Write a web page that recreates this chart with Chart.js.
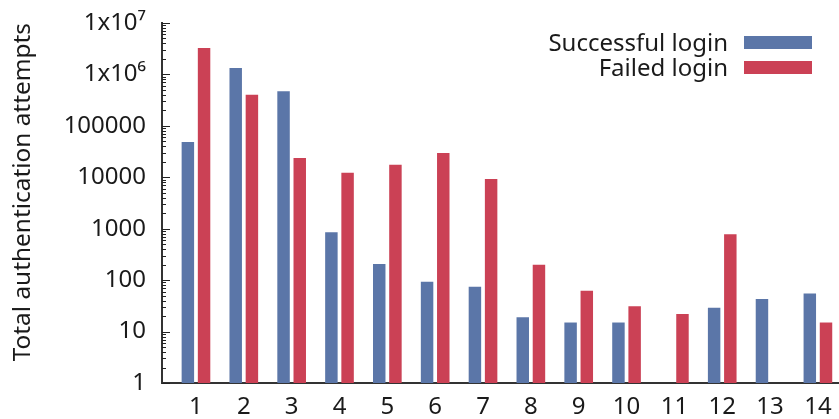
<!DOCTYPE html>
<html>
<head>
<meta charset="utf-8">
<script src="https://cdn.jsdelivr.net/npm/chart.js@4/dist/chart.umd.min.js"></script>
<style>
  html, body { margin: 0; padding: 0; background: #ffffff; }
  #wrap { width: 839px; height: 419px; position: relative; }
</style>
</head>
<body>
<div id="wrap"><canvas id="c" width="839" height="419"></canvas></div>
<script>
const categories = ['1','2','3','4','5','6','7','8','9','10','11','12','13','14'];
const successfulLogin = [48500, 1330000, 470000, 850, 206, 93, 74, 19, 15, 15, null, 29, 43, 55];
const failedLogin = [3270000, 403000, 23700, 12300, 17600, 29700, 9260, 200, 62, 31, 22, 780, null, 15];
const yTickValues = [1, 10, 100, 1000, 10000, 100000, 1000000, 10000000];
const yTickLabels = ['1', '10', '100', '1000', '10000', '100000', '1x10\u2076', '1x10\u2077'];
const seriesNames = ['Successful login', 'Failed login'];
const seriesColors = ['#5b76a8', '#cb4155'];
const yTitle = 'Total authentication attempts';

Chart.defaults.font.family = '"Noto Sans", "Open Sans", sans-serif';
Chart.defaults.color = '#1a1a1a';

const FONT_SIZE = 24;

const innerTicks = {
  id: 'innerTicks',
  afterDraw(chart) {
    const ctx = chart.ctx;
    const y = chart.scales.y;
    const area = chart.chartArea;
    ctx.save();
    ctx.strokeStyle = '#222';
    ctx.lineWidth = 1;
    y.ticks.forEach(t => {
      const py = Math.round(y.getPixelForValue(t.value)) + 0.5;
      const lg = Math.log10(t.value);
      const major = Math.abs(lg - Math.round(lg)) < 1e-9;
      const len = major ? 8 : 4;
      ctx.beginPath();
      ctx.moveTo(area.left, py);
      ctx.lineTo(area.left + len, py);
      ctx.stroke();
    });
    // legend (gnuplot style: text right-aligned, sample box to the right)
    ctx.font = FONT_SIZE + 'px "Noto Sans", "Open Sans", sans-serif';
    ctx.textAlign = 'right';
    ctx.textBaseline = 'alphabetic';
    chart.data.datasets.forEach((ds, i) => {
      const cy = 42.5 + i * 25;
      const boxRight = area.right - 26;
      const boxLeft = boxRight - 68;
      ctx.fillStyle = ds.backgroundColor;
      ctx.fillRect(boxLeft, cy - 6.5, 68, 13);
      ctx.fillStyle = '#1a1a1a';
      ctx.fillText(ds.label, boxLeft - 16, cy + 8.5);
    });
    ctx.restore();
  }
};

new Chart(document.getElementById('c'), {
  type: 'bar',
  data: {
    datasets: [
      {
        label: seriesNames[0],
        data: successfulLogin.map((v, i) => ({ x: i + 1, y: v })),
        backgroundColor: seriesColors[0],
        borderWidth: 0
      },
      {
        label: seriesNames[1],
        data: failedLogin.map((v, i) => ({ x: i + 1, y: v })),
        backgroundColor: seriesColors[1],
        borderWidth: 0
      }
    ]
  },
  options: {
    responsive: false,
    animation: false,
    devicePixelRatio: 1,
    layout: { padding: { top: 23, right: 1, left: 0, bottom: 0 } },
    categoryPercentage: 0.677,
    barPercentage: 0.77,
    plugins: {
      legend: { display: false },
      tooltip: { enabled: false }
    },
    scales: {
      x: {
        type: 'linear',
        min: 0.29,
        max: 14.42,
        offset: false,
        grid: { display: false, drawTicks: false, offset: false },
        border: { display: true, color: '#333', width: 2 },
        afterBuildTicks: (axis) => {
          axis.ticks = categories.map((c, i) => ({ value: i + 1 }));
        },
        afterFit: (s) => { s.height = 36; s.paddingLeft = 0; s.paddingRight = 0; },
        ticks: {
          autoSkip: false,
          maxRotation: 0,
          padding: 10,
          font: { size: FONT_SIZE },
          callback: (v) => categories[Math.round(v) - 1]
        }
      },
      y: {
        type: 'logarithmic',
        min: 1,
        max: 10000000,
        grid: { display: false, drawTicks: false },
        border: { display: true, color: '#333', width: 2 },
        afterBuildTicks: (axis) => {
          const t = [];
          for (let e = 0; e < 7; e++) {
            for (let m = 1; m <= 9; m++) t.push({ value: m * Math.pow(10, e) });
          }
          t.push({ value: 10000000 });
          axis.ticks = t;
        },
        afterFit: (s) => { s.width = 162; s.paddingTop = 0; s.paddingBottom = 0; },
        ticks: {
          autoSkip: false,
          padding: 16,
          font: { size: FONT_SIZE },
          callback: (v) => {
            const idx = yTickValues.findIndex(tv => Math.abs(tv - v) / tv < 1e-9);
            return idx >= 0 ? yTickLabels[idx] : '';
          }
        },
        title: {
          display: true,
          text: yTitle,
          align: 'end',
          font: { size: 24.4 },
          padding: { top: 8, bottom: 0 }
        }
      }
    }
  },
  plugins: [innerTicks]
});
</script>
</body>
</html>
